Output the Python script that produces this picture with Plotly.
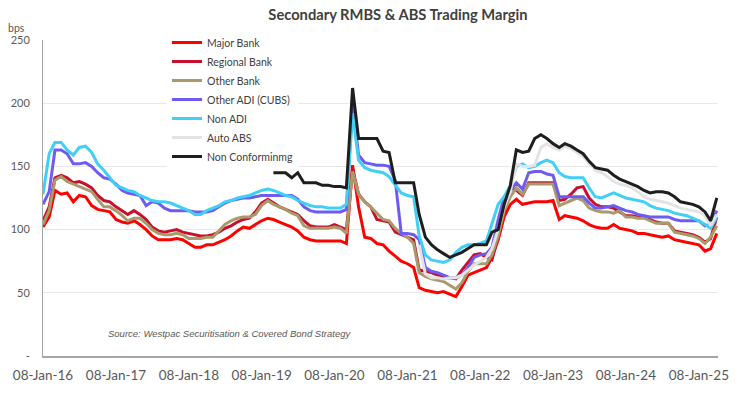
import pandas as pd
import plotly.graph_objects as go

# ---- data (monthly readings, 08-Jan-16 .. 08-Apr-25) ----
dates = pd.date_range("2016-01-08", periods=112, freq=pd.DateOffset(months=1))

major_bank = [102,110,131,128,129,122,127,126,119,116,115,114,
              108,106,105,107,104,100,95,92,92,92,93,92,
              89,86,86,88,88,90,92,95,99,102,101,104,
              107,109,108,106,104,102,99,94,92,91,91,91,
              91,91,89,151,118,94,93,89,88,83,79,75,
              73,70,54,52,51,50,51,49,47,55,64,66,
              68,70,78,92,110,120,124,120,121,122,122,122,
              123,108,111,110,109,107,104,102,101,101,104,101,
              100,99,97,97,96,95,94,95,92,91,90,89,
              88,83,85,97]

regional_bank = [107,118,141,143,141,137,138,136,133,127,123,122,
                 118,115,112,115,112,108,102,99,98,99,100,98,
                 97,96,95,95,96,98,101,103,106,108,109,114,
                 121,124,121,118,116,114,112,107,103,102,102,102,
                 104,102,100,148,128,122,118,108,107,106,98,96,
                 94,92,68,67,66,64,62,62,61,68,74,80,
                 81,78,76,95,115,133,131,127,137,137,137,137,
                 137,123,124,128,133,134,125,120,118,118,117,114,
                 111,111,110,110,108,106,105,105,99,98,97,96,
                 94,90,93,110]

other_bank = [104,115,139,142,138,136,134,132,130,124,118,118,
              115,111,107,109,109,105,100,97,96,96,97,96,
              93,93,93,94,94,99,104,107,109,110,110,112,
              119,123,120,118,116,113,111,103,101,101,101,101,
              102,101,97,146,128,122,118,113,108,107,101,97,
              94,89,66,63,61,60,59,56,53,58,67,73,
              73,73,80,95,115,126,133,128,136,136,136,136,
              136,119,121,123,125,123,117,115,114,114,113,115,
              110,110,109,109,107,105,105,105,98,97,96,95,
              93,89,94,103]

other_adi = [120,130,163,163,160,152,152,153,150,145,141,140,
             136,131,129,128,127,119,122,121,117,115,115,115,
             115,114,114,114,115,118,121,123,124,125,125,126,
             127,127,127,127,127,127,124,118,115,114,114,114,
             114,114,116,200,159,153,152,151,151,150,139,97,
             97,96,92,70,67,66,64,62,62,64,70,78,
             80,81,86,108,126,131,137,132,145,146,146,144,
             143,126,126,126,126,126,121,117,117,118,119,117,
             115,114,112,111,110,110,110,110,108,107,107,107,
             107,103,104,115]

non_adi = [128,160,169,169,163,159,165,166,161,152,147,141,
           135,133,131,130,127,125,123,122,122,121,119,117,
           115,112,112,115,117,119,122,123,125,126,127,129,
           131,132,131,129,127,126,123,121,119,118,118,117,
           117,117,120,192,155,149,147,146,145,142,135,129,
           127,126,95,80,76,75,74,76,82,86,88,88,
           89,91,105,120,126,135,150,152,149,150,153,155,
           153,145,142,141,141,141,133,126,125,127,129,127,
           125,124,123,122,119,117,116,115,113,112,111,109,
           107,104,101,110]

auto_abs = [None]*62 + [88,65,62,62,61,62,62,64,68,72,
            75,78,85,100,118,130,152,150,150,151,165,168,
            165,163,166,164,161,158,152,147,145,142,138,136,
            135,133,130,126,124,123,122,121,119,117,116,115,
            114,111,103,112]

non_conforming = [None]*38 + [145,145,145,141,145,137,137,137,135,135,
                  134,134,133,212,172,172,172,172,162,161,137,137,
                  137,137,112,94,88,84,81,78,80,82,85,88,
                  88,88,98,100,120,135,163,161,162,172,175,172,
                  168,165,168,166,163,160,154,149,148,147,143,140,
                  138,136,134,131,129,130,130,129,126,122,121,120,
                  118,114,107,125]

series = [
    ("Major Bank", major_bank, "#FF0000"),
    ("Regional Bank", regional_bank, "#C8102E"),
    ("Other Bank", other_bank, "#A89A6A"),
    ("Other ADI (CUBS)", other_adi, "#6E5CF2"),
    ("Non ADI", non_adi, "#40CFF5"),
    ("Auto ABS", auto_abs, "#E3E3E3"),
    ("Non Conforminmg", non_conforming, "#1E1E1E"),
]

tick_dates = pd.date_range("2016-01-08", periods=10, freq=pd.DateOffset(years=1))
tick_text = [d.strftime("%d-%b-%y") for d in tick_dates]
y_ticks = [0, 50, 100, 150, 200, 250]
y_text = ["-", "50", "100", "150", "200", "250"]

FONT = "Lato"
GREY = "#595959"

W, H = 748, 395
L, T, R, B = 43, 40, 30, 39
PW, PH = W - L - R, H - T - B

fig = go.Figure()
for name, vals, col in series:
    fig.add_trace(go.Scatter(x=dates, y=vals, name=name, mode="lines",
                             line=dict(color=col, width=3), connectgaps=False))

fig.update_layout(
    width=W, height=H,
    margin=dict(l=L, r=R, t=T, b=B, autoexpand=False),
    paper_bgcolor="white", plot_bgcolor="white",
    title=dict(text="<b>Secondary RMBS & ABS Trading Margin</b>", x=398/W, xanchor="center",
               xref="container", y=1 - 15/H, yanchor="middle",
               font=dict(family=FONT, size=14.7, color="#404040")),
    font=dict(family=FONT, color=GREY),
    legend=dict(x=(167-L)/PW, xanchor="left", y=1 + 12/PH, yanchor="top", bgcolor="white",
                font=dict(family=FONT, size=10.5, color="#404040"), tracegroupgap=0,
                itemwidth=30),
    showlegend=True,
)
fig.update_xaxes(type="date", range=["2016-01-08", "2025-04-14"], tickvals=tick_dates,
                 ticktext=tick_text, showgrid=False, showline=True, linecolor="#A6A6A6",
                 linewidth=1.5, ticks="", tickfont=dict(family=FONT, size=13.5, color=GREY),
                 ticklabelstandoff=6, automargin=False)
fig.update_yaxes(range=[0, 250], tickvals=y_ticks, ticktext=y_text, showgrid=True,
                 gridcolor="#E8E8E8", gridwidth=1, showline=True, linecolor="#A6A6A6",
                 linewidth=1, ticks="", zeroline=False,
                 tickfont=dict(family=FONT, size=11, color=GREY), ticklabelstandoff=10,
                 automargin=False)

fig.add_annotation(text="bps", xref="paper", yref="paper", x=(17-L)/PW, y=1 + 12/PH,
                   xanchor="center", yanchor="middle", showarrow=False,
                   font=dict(family=FONT, size=10.5, color=GREY))
fig.add_annotation(text="<i>Source: Westpac Securitisation & Covered Bond Strategy</i>",
                   xref="paper", yref="paper", x=(106-L)/PW, y=(356-333)/PH,
                   xanchor="left", yanchor="middle", showarrow=False,
                   font=dict(family="Liberation Sans", size=9.5, color=GREY))

fig.write_html("out.html", config={"displayModeBar": False},
               post_script="document.body.style.margin='0';")
